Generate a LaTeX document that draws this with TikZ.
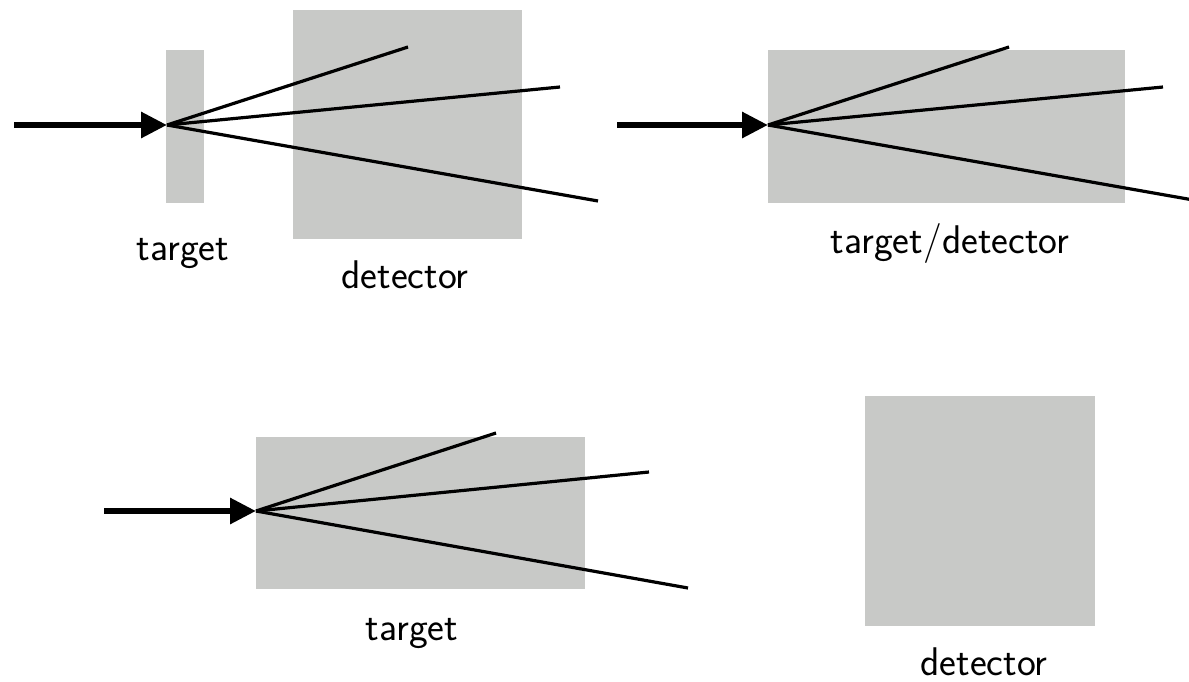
\documentclass[tikz,border=0pt]{standalone}
\usetikzlibrary{arrows.meta}
\definecolor{boxgray}{RGB}{200,201,199}
\begin{document}
\begin{tikzpicture}[x=0.5pt,y=-0.5pt,
  slab/.style={fill=boxgray},
  beam/.style={line width=3pt,-{Triangle[length=13pt,width=12.5pt]}},
  ray/.style={line width=1.6pt},
  lbl/.style={anchor=base,font=\fontsize{20pt}{22pt}\selectfont\sffamily,inner sep=0pt}]
\useasboundingbox (0,0) rectangle (1189,681);
\clip (0,0) rectangle (1189,681);
% panel 1
\fill[slab] (166,50) rectangle (204,203);
\fill[slab] (293,10) rectangle (522,239);
\coordinate (s1) at (14,125);
\coordinate (v1) at (167,125);
\coordinate (a1) at (408,47);
\coordinate (b1) at (560,87);
\coordinate (c1) at (598,201);
\draw[ray] (v1) -- (a1);
\draw[ray] (v1) -- (b1);
\draw[ray] (v1) -- (c1);
\draw[beam] (s1) -- (v1);
\node[lbl] (t1) at (183,260) {target};
\node[lbl] (d1) at (405,288) {detector};
% panel 2
\fill[slab] (768,50) rectangle (1125,203);
\coordinate (s2) at (617,125);
\coordinate (v2) at (768,125);
\coordinate (a2) at (1009,47);
\coordinate (b2) at (1163,87);
\coordinate (c2) at (1199,201);
\draw[ray] (v2) -- (a2);
\draw[ray] (v2) -- (b2);
\draw[ray] (v2) -- (c2);
\draw[beam] (s2) -- (v2);
\node[lbl] (td2) at (950,253) {target/detector};
% panel 3
\fill[slab] (256,437) rectangle (585,589);
\coordinate (s3) at (104,511);
\coordinate (v3) at (256,511);
\coordinate (a3) at (496,433);
\coordinate (b3) at (649,472);
\coordinate (c3) at (688,588);
\draw[ray] (v3) -- (a3);
\draw[ray] (v3) -- (b3);
\draw[ray] (v3) -- (c3);
\draw[beam] (s3) -- (v3);
\node[lbl] (t3) at (412,640) {target};
% panel 4
\fill[slab] (865,396) rectangle (1095,626);
\node[lbl] (d4) at (984,675) {detector};
\end{tikzpicture}
\end{document}
